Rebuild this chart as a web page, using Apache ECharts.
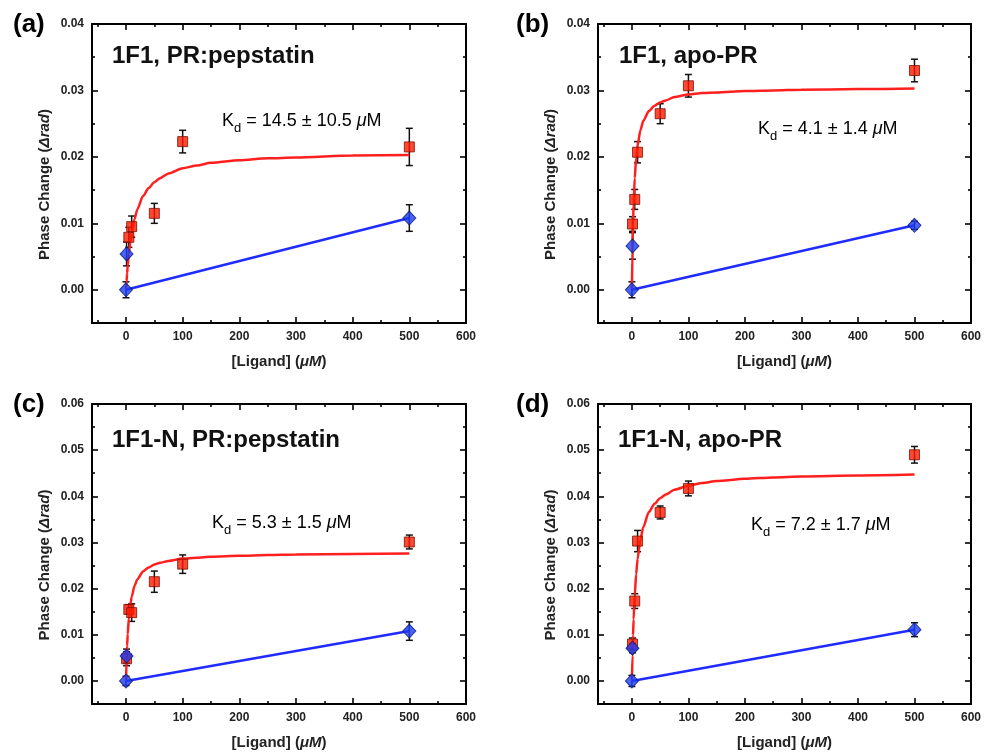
<!DOCTYPE html>
<html>
<head>
<meta charset="utf-8">
<title>Phase change vs ligand</title>
<script src="https://cdn.jsdelivr.net/npm/echarts@6/dist/echarts.min.js"></script>
<style>
  html, body { margin: 0; padding: 0; background: #fff; }
  #main { width: 984px; height: 756px; }
</style>
</head>
<body>
<div id="main"></div>
<script>
// tick positions
const xMajor = [0, 100, 200, 300, 400, 500, 600];
const xMinor = [-50, 50, 150, 250, 350, 450, 550];
const yMajorLow = [0, 0.01, 0.02, 0.03, 0.04];
const yMinorLow = [0.005, 0.015, 0.025, 0.035];
const yMajorHigh = [0, 0.01, 0.02, 0.03, 0.04, 0.05, 0.06];
const yMinorHigh = [0.005, 0.015, 0.025, 0.035, 0.045, 0.055];

// panel text
const panelLetters = ['(a)', '(b)', '(c)', '(d)'];
const panelTitles = ['1F1, PR:pepstatin', '1F1, apo-PR', '1F1-N, PR:pepstatin', '1F1-N, apo-PR'];
const kdValues = ['14.5 ± 10.5', '4.1 ± 1.4', '5.3 ± 1.5', '7.2 ± 1.7'];

// measured points (ligand µM, phase change rad, error)
const redX_a = [5, 10, 50, 100, 500];
const redY_a = [0.0079, 0.0095, 0.0115, 0.0223, 0.0215];
const redErr_a = [0.0015, 0.0016, 0.0015, 0.0017, 0.0028];
const redX_b = [1, 5, 10, 50, 100, 500];
const redY_b = [0.0099, 0.0136, 0.0207, 0.0265, 0.0307, 0.0330];
const redErr_b = [0.0011, 0.0015, 0.0016, 0.0015, 0.0017, 0.0017];
const redX_c = [1, 5, 10, 50, 100, 500];
const redY_c = [0.0048, 0.0155, 0.0148, 0.0215, 0.0253, 0.0301];
const redErr_c = [0.0015, 0.0010, 0.0019, 0.0023, 0.0020, 0.0015];
const redX_d = [1, 5, 10, 50, 100, 500];
const redY_d = [0.0080, 0.0173, 0.0303, 0.0365, 0.0417, 0.0490];
const redErr_d = [0.0013, 0.0016, 0.0023, 0.0014, 0.0016, 0.0018];

const blueX = [0, 1, 500];
const blueY_a = [0, 0.0054, 0.0108];
const blueErr_a = [0.0012, 0.0018, 0.0020];
const blueY_b = [0, 0.0066, 0.0097];
const blueErr_b = [0.0012, 0.0020, 0.0006];
const blueY_c = [0, 0.0054, 0.0108];
const blueErr_c = [0.0010, 0.0015, 0.0020];
const blueY_d = [0, 0.0071, 0.0111];
const blueErr_d = [0.0012, 0.0010, 0.0015];

// fitted curves
const fitX = [0, 1, 2, 3, 5, 7.5, 10, 15, 20, 30, 40, 50, 60, 75, 100, 125, 150, 200, 250, 300, 400, 500];
const fitY_a = [0, 0.0013, 0.0025, 0.0036, 0.0054, 0.0071, 0.0085, 0.0106, 0.0121, 0.0141, 0.0153, 0.0162, 0.0168, 0.0175, 0.0183, 0.0187, 0.0191, 0.0195, 0.0198, 0.0199, 0.0202, 0.0203];
const fitY_b = [0, 0.0060, 0.0100, 0.0129, 0.0168, 0.0198, 0.0217, 0.0240, 0.0254, 0.0269, 0.0277, 0.0282, 0.0285, 0.0290, 0.0294, 0.0296, 0.0297, 0.0299, 0.0300, 0.0301, 0.0302, 0.0303];
const fitY_c = [0, 0.0044, 0.0076, 0.0101, 0.0135, 0.0163, 0.0182, 0.0206, 0.0220, 0.0237, 0.0246, 0.0252, 0.0256, 0.0260, 0.0265, 0.0267, 0.0269, 0.0271, 0.0273, 0.0274, 0.0275, 0.0276];
const fitY_d = [0, 0.0055, 0.0099, 0.0133, 0.0186, 0.0231, 0.0264, 0.0306, 0.0333, 0.0366, 0.0384, 0.0396, 0.0404, 0.0414, 0.0423, 0.0429, 0.0433, 0.0438, 0.0441, 0.0443, 0.0445, 0.0447];
const blueLineX = [0, 500];
const blueLineY_a = [0, 0.0108];
const blueLineY_b = [0, 0.0097];
const blueLineY_c = [0, 0.0108];
const blueLineY_d = [0, 0.0111];

const panels = [
  { redX: redX_a, redY: redY_a, redErr: redErr_a, blueY: blueY_a, blueErr: blueErr_a, fitY: fitY_a, lineY: blueLineY_a, yMax: 0.04 },
  { redX: redX_b, redY: redY_b, redErr: redErr_b, blueY: blueY_b, blueErr: blueErr_b, fitY: fitY_b, lineY: blueLineY_b, yMax: 0.04 },
  { redX: redX_c, redY: redY_c, redErr: redErr_c, blueY: blueY_c, blueErr: blueErr_c, fitY: fitY_c, lineY: blueLineY_c, yMax: 0.06 },
  { redX: redX_d, redY: redY_d, redErr: redErr_d, blueY: blueY_d, blueErr: blueErr_d, fitY: fitY_d, lineY: blueLineY_d, yMax: 0.06 }
];

const FONT = '"Liberation Sans", Arial, sans-serif';
const grids = [
  { left: 92, top: 24, width: 374, height: 299 },
  { left: 598, top: 24, width: 374, height: 299 },
  { left: 92, top: 404, width: 374, height: 300 },
  { left: 598, top: 404, width: 374, height: 300 }
];

const boxLine = { onZero: false, lineStyle: { color: '#000', width: 2 } };
const noLine = { show: false, onZero: false };
const tickStyle = { color: '#000', width: 1.6 };

function makeXAxes(g) {
  const base = { gridIndex: g, type: 'value', min: -60, max: 600, splitLine: { show: false } };
  return [
    Object.assign({}, base, {
      position: 'bottom',
      axisLine: boxLine,
      axisTick: { inside: true, length: 6, customValues: xMajor, lineStyle: tickStyle },
      axisLabel: { customValues: xMajor, margin: 8, color: '#222', fontFamily: FONT, fontWeight: 'bold', fontSize: 12 },
      name: '[Ligand] ({i|μM})',
      nameLocation: 'middle',
      nameGap: 31,
      nameTextStyle: {
        color: '#222', fontFamily: FONT, fontWeight: 'bold', fontSize: 15,
        rich: { i: { fontFamily: FONT, fontWeight: 'bold', fontStyle: 'italic', fontSize: 15, color: '#222' } }
      }
    }),
    Object.assign({}, base, {
      position: 'bottom', axisLine: noLine,
      axisTick: { inside: true, length: 3, customValues: xMinor, lineStyle: tickStyle },
      axisLabel: { show: false }
    }),
    Object.assign({}, base, {
      position: 'top', axisLine: boxLine,
      axisTick: { inside: true, length: 6, customValues: xMajor, lineStyle: tickStyle },
      axisLabel: { show: false }
    }),
    Object.assign({}, base, {
      position: 'top', axisLine: noLine,
      axisTick: { inside: true, length: 3, customValues: xMinor, lineStyle: tickStyle },
      axisLabel: { show: false }
    })
  ];
}

function makeYAxes(g, yMax) {
  const major = yMax > 0.05 ? yMajorHigh : yMajorLow;
  const minor = yMax > 0.05 ? yMinorHigh : yMinorLow;
  const base = { gridIndex: g, type: 'value', min: -0.005, max: yMax, splitLine: { show: false } };
  return [
    Object.assign({}, base, {
      position: 'left',
      axisLine: boxLine,
      axisTick: { inside: true, length: 6, customValues: major, lineStyle: tickStyle },
      axisLabel: {
        customValues: major, margin: 8, color: '#222', fontFamily: FONT, fontWeight: 'bold', fontSize: 12,
        formatter: v => v.toFixed(2)
      },
      name: 'Phase Change ({i|Δrad})',
      nameLocation: 'middle',
      nameGap: 40,
      nameTextStyle: {
        color: '#222', fontFamily: FONT, fontWeight: 'bold', fontSize: 15,
        padding: [0, 22, 0, 0],
        rich: { i: { fontFamily: FONT, fontWeight: 'bold', fontStyle: 'italic', fontSize: 15, color: '#222' } }
      }
    }),
    Object.assign({}, base, {
      position: 'left', axisLine: noLine,
      axisTick: { inside: true, length: 3, customValues: minor, lineStyle: tickStyle },
      axisLabel: { show: false }
    }),
    Object.assign({}, base, {
      position: 'right', axisLine: boxLine,
      axisTick: { inside: true, length: 6, customValues: major, lineStyle: tickStyle },
      axisLabel: { show: false }
    }),
    Object.assign({}, base, {
      position: 'right', axisLine: noLine,
      axisTick: { inside: true, length: 3, customValues: minor, lineStyle: tickStyle },
      axisLabel: { show: false }
    })
  ];
}

// vertical error bar with caps
function renderErr(params, api) {
  const x = api.value(0), y = api.value(1), e = api.value(2);
  const hi = api.coord([x, y + e]);
  const lo = api.coord([x, y - e]);
  const w = 3.5;
  const st = { stroke: '#111', lineWidth: 1.5 };
  return {
    type: 'group',
    children: [
      { type: 'line', shape: { x1: hi[0], y1: hi[1], x2: lo[0], y2: lo[1] }, style: st },
      { type: 'line', shape: { x1: hi[0] - w, y1: hi[1], x2: hi[0] + w, y2: hi[1] }, style: st },
      { type: 'line', shape: { x1: lo[0] - w, y1: lo[1], x2: lo[0] + w, y2: lo[1] }, style: st }
    ]
  };
}

const xAxis = [], yAxis = [], series = [], graphic = [];
panels.forEach((p, g) => {
  xAxis.push(...makeXAxes(g));
  yAxis.push(...makeYAxes(g, p.yMax));
  const axes = { xAxisIndex: g * 4, yAxisIndex: g * 4 };
  const redErrData = p.redX.map((x, i) => [x, p.redY[i], p.redErr[i]]);
  const blueErrData = blueX.map((x, i) => [x, p.blueY[i], p.blueErr[i]]);
  series.push(
    Object.assign({ type: 'custom', renderItem: renderErr, data: redErrData.concat(blueErrData), encode: { x: 0, y: 1 }, z: 1, silent: true }, axes),
    Object.assign({
      type: 'line', data: fitX.map((x, i) => [x, p.fitY[i]]), showSymbol: false,
      smooth: 0.25, smoothMonotone: 'x', lineStyle: { color: '#ff1f1f', width: 2.5 }, z: 2
    }, axes),
    Object.assign({
      type: 'line', data: blueLineX.map((x, i) => [x, p.lineY[i]]), showSymbol: false,
      lineStyle: { color: '#1f2bff', width: 2.5 }, z: 2
    }, axes),
    Object.assign({
      type: 'scatter', data: p.redX.map((x, i) => [x, p.redY[i]]), symbol: 'rect', symbolSize: 10,
      itemStyle: { color: '#ff1a00', borderColor: '#7a1000', borderWidth: 1 }, z: 3
    }, axes),
    Object.assign({
      type: 'scatter', data: blueX.map((x, i) => [x, p.blueY[i]]), symbol: 'diamond', symbolSize: [13, 14],
      itemStyle: { color: '#1a3cf2', borderColor: '#0a1a7a', borderWidth: 1 }, z: 4
    }, axes)
  );
});

// panel letters, titles and Kd labels
const letterPos = [[13, 27], [516, 27], [13, 407], [516, 407]];
const titlePos = [[112, 56], [619, 56], [112, 440], [618, 440]];
const kdPos = [[222, 121], [758, 129], [212, 523], [751, 525]];
panels.forEach((p, g) => {
  graphic.push({
    type: 'text', left: letterPos[g][0], top: letterPos[g][1] - 15,
    style: { text: panelLetters[g], font: 'bold 26px ' + FONT, fill: '#000' }
  });
  graphic.push({
    type: 'text', x: titlePos[g][0], y: titlePos[g][1],
    style: { text: panelTitles[g], font: 'bold 24px ' + FONT, fill: '#111', verticalAlign: 'middle' }
  });
  graphic.push({
    type: 'text', x: kdPos[g][0], y: kdPos[g][1],
    style: {
      text: '{k|K}{s|d}{k| = ' + kdValues[g] + ' }{m|μ}{k|M}',
      verticalAlign: 'middle',
      rich: {
        k: { fontFamily: FONT, fontSize: 18, color: '#111', lineHeight: 28, verticalAlign: 'middle' },
        m: { fontFamily: FONT, fontSize: 18, color: '#111', fontStyle: 'italic', lineHeight: 28, verticalAlign: 'middle' },
        s: { fontFamily: FONT, fontSize: 13, color: '#111', lineHeight: 13, verticalAlign: 'bottom' }
      }
    }
  });
});

const chart = echarts.init(document.getElementById('main'));
chart.setOption({
  animation: false,
  backgroundColor: '#fff',
  grid: grids,
  xAxis: xAxis,
  yAxis: yAxis,
  series: series,
  graphic: graphic
});
</script>
</body>
</html>
